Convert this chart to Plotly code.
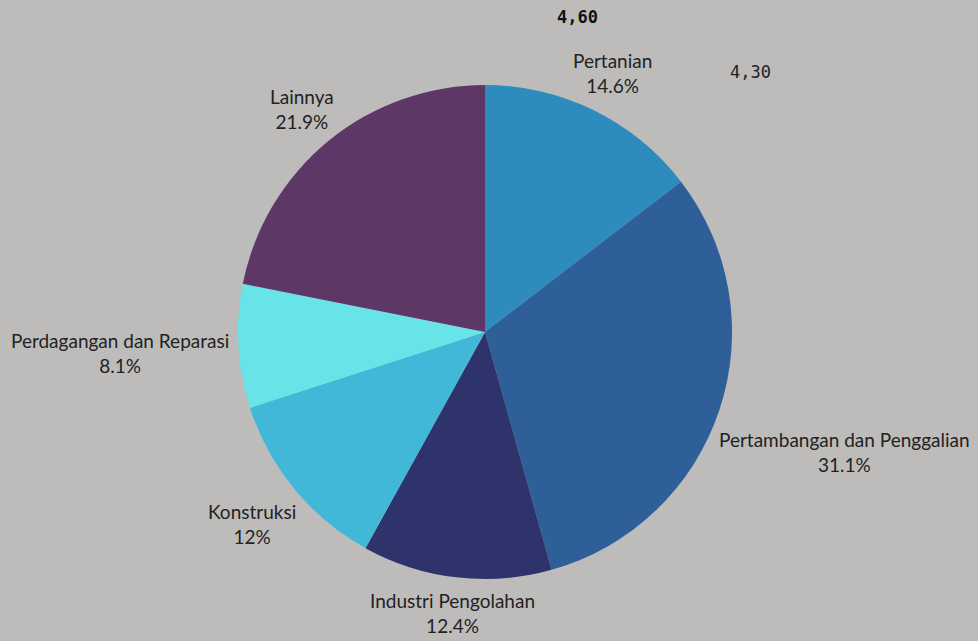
import math
import plotly.graph_objects as go

# sector shares (%)
labels = ["Pertanian", "Pertambangan dan Penggalian", "Industri Pengolahan",
          "Konstruksi", "Perdagangan dan Reparasi", "Lainnya"]
values = [14.6, 31.1, 12.4, 12, 8.1, 21.9]
colors = ["#2E8BBD", "#2E5F99", "#2E336B", "#42B8D8", "#68E3E8", "#5D3866"]

# loose numbers floating above the pie
note_texts = ["4,60", "4,30"]

W, H = 978, 641
dom_x = [0.2434, 0.7485]
dom_y = [0.0967, 0.8674]
label_size = 19

fig = go.Figure()
fig.add_trace(go.Pie(
    labels=labels,
    values=values,
    sort=False,
    direction="clockwise",
    rotation=0,
    marker=dict(colors=colors, line=dict(width=0)),
    textinfo="none",
    domain=dict(x=dom_x, y=dom_y),
    showlegend=False,
    hoverinfo="label+percent",
))

# labels sit outside each slice, centred on the slice's mid angle
cx = (dom_x[0] + dom_x[1]) / 2 * W
cy = (1 - (dom_y[0] + dom_y[1]) / 2) * H
r = min((dom_x[1] - dom_x[0]) * W, (dom_y[1] - dom_y[0]) * H) / 2
gap = 6
total = sum(values)
cum = 0
for lab, val in zip(labels, values):
    ang = 2 * math.pi * (cum + val / 2) / total
    cum += val
    ux, uy = math.sin(ang), -math.cos(ang)
    half_w = len(lab) * 0.49 * label_size / 2   # rough text width
    half_h = 1.3 * label_size
    dist = r + gap + half_w * abs(ux) + half_h * abs(uy) * 0.8
    fig.add_annotation(
        x=(cx + dist * ux) / W, y=1 - (cy + dist * uy) / H,
        xref="paper", yref="paper", xanchor="center", yanchor="middle",
        text=f"{lab}<br>{val:g}%", showarrow=False, align="center",
        font=dict(family="Lato", size=label_size, color="#222222"),
    )

fig.add_annotation(x=0.591, y=0.973, xref="paper", yref="paper", text="<b>" + note_texts[0] + "</b>",
                   xanchor="center", yanchor="middle",
                   showarrow=False, font=dict(family="DejaVu Sans Mono", size=17, color="#111111"))
fig.add_annotation(x=0.767, y=0.887, xref="paper", yref="paper", text=note_texts[1],
                   xanchor="center", yanchor="middle",
                   showarrow=False, font=dict(family="DejaVu Sans Mono", size=17, color="#222222"))

fig.update_layout(
    width=W, height=H,
    margin=dict(l=0, r=0, t=0, b=0),
    paper_bgcolor="#BDBCBA",
    plot_bgcolor="#BDBCBA",
)

fig.write_html("out.html", config={"displayModeBar": False},
               post_script="document.body.style.margin='0';")
